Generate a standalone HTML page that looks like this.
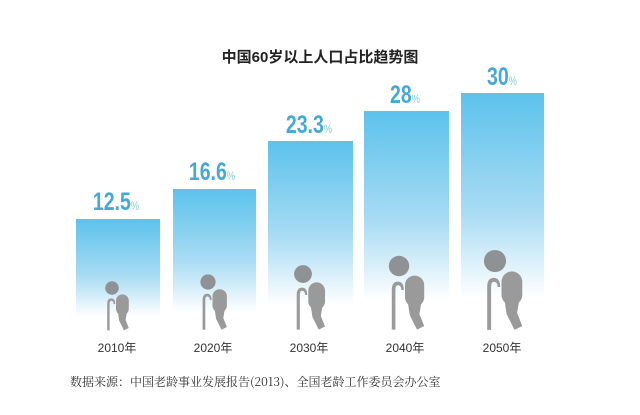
<!DOCTYPE html><html><head><meta charset="utf-8"><style>
body{margin:0;width:640px;height:410px;background:#fff;overflow:hidden;font-family:"Liberation Sans","Noto Sans CJK SC",sans-serif}
</style></head><body>
<svg width="640" height="410" xmlns="http://www.w3.org/2000/svg">
<defs><linearGradient id="g" x1="0" y1="0" x2="0" y2="1"><stop offset="0" stop-color="#5cc2ec"/><stop offset="0.5" stop-color="#aadcf4"/><stop offset="0.85" stop-color="#ffffff"/><stop offset="1" stop-color="#ffffff"/></linearGradient>
<g id="man" fill="#9a9a9a"><circle cx="0" cy="0" r="8.5" fill="#8f9295"/><rect x="5" y="8" width="16" height="26" rx="8"/><path d="M7 28 L19 28 L17 40 L21 50 L15 53 L9 41 Z"/><path d="M-6 53 L-6 20 Q-6 13 -1 13 Q4 13 4 20 L2 20 Q2 16 -1 16 Q-3 16 -3 20 L-3 53 Z"/></g></defs>
<text x="320" y="62" text-anchor="middle" font-size="15" font-weight="bold" fill="#222">中国60岁以上人口占比趋势图</text>
<g>
<rect x="76" y="219" width="84" height="115" fill="url(#g)"/>
<rect x="173" y="189" width="83" height="145" fill="url(#g)"/>
<rect x="268" y="141" width="85" height="193" fill="url(#g)"/>
<rect x="364" y="111" width="85" height="223" fill="url(#g)"/>
<rect x="461" y="93" width="83" height="241" fill="url(#g)"/>
</g>
<use href="#man" transform="translate(112,288) scale(0.8)"/>
<use href="#man" transform="translate(208,282) scale(0.9)"/>
<use href="#man" transform="translate(303,274) scale(1.05)"/>
<use href="#man" transform="translate(399,266) scale(1.2)"/>
<use href="#man" transform="translate(495,261) scale(1.3)"/>
<g font-weight="bold" fill="#45a9d8" font-size="25">
<text transform="translate(116,210) scale(0.78,1)" text-anchor="middle">12.5<tspan font-size="12" font-weight="normal" fill="#8cc">%</tspan></text>
<text transform="translate(212,180) scale(0.78,1)" text-anchor="middle">16.6<tspan font-size="12" font-weight="normal" fill="#8cc">%</tspan></text>
<text transform="translate(309,133) scale(0.78,1)" text-anchor="middle">23.3<tspan font-size="12" font-weight="normal" fill="#8cc">%</tspan></text>
<text transform="translate(405,103) scale(0.78,1)" text-anchor="middle">28<tspan font-size="12" font-weight="normal" fill="#8cc">%</tspan></text>
<text transform="translate(502,85) scale(0.78,1)" text-anchor="middle">30<tspan font-size="12" font-weight="normal" fill="#8cc">%</tspan></text>
</g>
<g font-size="12" fill="#333" text-anchor="middle">
<text x="117" y="352">2010年</text><text x="213" y="352">2020年</text><text x="309" y="352">2030年</text><text x="405" y="352">2040年</text><text x="502" y="352">2050年</text>
</g>
<text x="70" y="386" font-size="12" fill="#333" font-family="'Noto Serif CJK SC',serif">数据来源：中国老龄事业发展报告(2013)、全国老龄工作委员会办公室</text>
</svg>
</body></html>
